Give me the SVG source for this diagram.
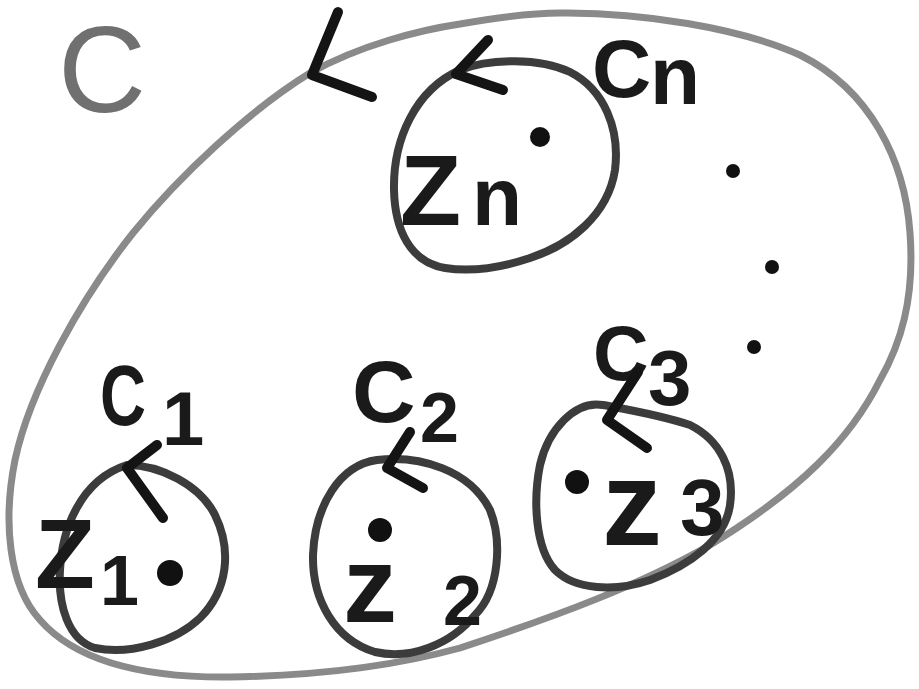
<svg xmlns="http://www.w3.org/2000/svg" width="919" height="689" viewBox="0 0 919 689">
<style>
.loop{fill:none;stroke:#8a8a8a;stroke-width:7;stroke-linecap:round;stroke-linejoin:round}
.circ{fill:none;stroke:#3c3c3c;stroke-width:8;stroke-linecap:round;stroke-linejoin:round}
.arrow{fill:none;stroke:#141414;stroke-width:10;stroke-linecap:round;stroke-linejoin:round}
.lbl{font-family:"Liberation Sans","DejaVu Sans",sans-serif;font-weight:bold;fill:#1a1a1a}
.outerlbl{font-family:"Liberation Sans","DejaVu Sans",sans-serif;font-weight:normal;fill:#707070}
.dot{fill:#111}
</style>
<rect width="919" height="689" fill="#fff"/>
<g id="outer-contour">
<path class="loop" d="M 310 73 C 360 45, 420 30, 460 24 C 500 17, 530 13, 560 13 C 640 12, 740 28, 800 55 C 870 90, 905 160, 910 233 C 915 300, 900 345, 880 380 C 850 440, 800 490, 710 545 C 640 585, 560 615, 460 648 C 380 670, 300 676, 230 677 C 140 678, 75 660, 40 620 C 8 585, 3 520, 15 460 C 30 390, 80 300, 133 233 C 180 175, 250 110, 310 73"/>
<text class="outerlbl" x="58" y="112" font-size="122">C</text>
</g>
<g id="node-cn">
<path class="circ" d="M 460 70 C 490 58, 540 58, 570 72 C 605 90, 620 130, 615 170 C 608 215, 570 245, 530 258 C 500 268, 470 272, 445 268 C 410 262, 395 230, 394 190 C 393 140, 415 90, 460 70 Z"/>
<text class="lbl" font-size="82"><tspan x="592" y="97">C</tspan><tspan x="650" y="104">n</tspan></text>
<circle class="dot" cx="540" cy="137" r="10"/>
<text class="lbl" font-size="100"><tspan x="400" y="225">Z</tspan><tspan x="472" y="225" font-size="82">n</tspan></text>
</g>
<g id="node-c1">
<path class="circ" d="M 127 465 C 160 465, 200 485, 215 515 C 232 550, 228 590, 200 618 C 175 642, 130 655, 95 648 C 68 640, 58 605, 60 570 C 62 530, 80 480, 127 465 Z"/>
<text class="lbl" x="100" y="425" font-size="86" textLength="46" lengthAdjust="spacingAndGlyphs">C</text>
<text class="lbl" x="162" y="445" font-size="76">1</text>
<text class="lbl" x="35" y="588" font-size="98">Z</text>
<text class="lbl" x="100" y="605" font-size="70">1</text>
<circle class="dot" cx="170" cy="573" r="13"/>
</g>
<g id="node-c2">
<path class="circ" d="M 377 460 C 420 455, 470 470, 490 510 C 502 540, 500 590, 475 615 C 450 645, 410 660, 375 652 C 335 640, 312 600, 313 555 C 315 505, 340 465, 377 460 Z"/>
<text class="lbl" x="352" y="422" font-size="88">C</text>
<text class="lbl" x="420" y="442" font-size="70">2</text>
<circle class="dot" cx="380" cy="530" r="12"/>
<text class="lbl" x="343" y="622" font-size="108">z</text>
<text class="lbl" x="443" y="625" font-size="70">2</text>
</g>
<g id="node-c3">
<path class="circ" d="M 603 405 C 630 410, 660 415, 690 425 C 720 440, 735 470, 730 505 C 725 540, 690 565, 650 580 C 615 592, 575 590, 555 570 C 535 548, 533 500, 540 465 C 548 430, 575 400, 603 405 Z"/>
<text class="lbl" x="593" y="380" font-size="77">C</text>
<text class="lbl" x="648" y="405" font-size="78">3</text>
<circle class="dot" cx="577" cy="482" r="12"/>
<text class="lbl" x="602" y="545" font-size="120">z</text>
<text class="lbl" x="680" y="535" font-size="80">3</text>
</g>
<g id="ellipsis">
<circle class="dot" cx="733" cy="171" r="7"/>
<circle class="dot" cx="772" cy="267" r="7"/>
<circle class="dot" cx="754" cy="347" r="7"/>
</g>
<g id="connectors">
<path class="arrow" d="M 338 12 L 312 75 L 372 97"/>
<path class="arrow" d="M 488 40 L 456 74 L 503 90"/>
<path class="arrow" d="M 157 445 L 127 468 L 163 518"/>
<path class="arrow" d="M 410 432 L 387 468 L 423 488"/>
<path class="arrow" d="M 638 372 L 607 420 L 647 448"/>
</g>
</svg>
